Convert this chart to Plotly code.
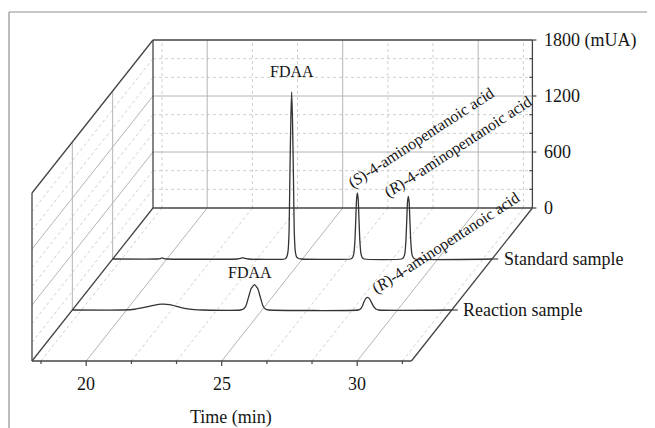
import plotly.graph_objects as go

# ---------------- data ----------------
std_time = [18.0, 19.65, 19.75, 19.82, 19.9, 20.0, 22.6, 22.72, 22.8, 22.88, 23.0,
            24.35, 24.42, 24.47, 24.51, 24.54, 24.575, 24.605, 24.635, 24.67, 24.70,
            24.74, 24.79, 24.86, 24.95,
            26.78, 26.85, 26.9, 26.94, 26.97, 27.0, 27.03, 27.06, 27.09, 27.12, 27.16,
            27.21, 27.28,
            28.66, 28.73, 28.78, 28.82, 28.85, 28.88, 28.91, 28.94, 28.97, 29.0, 29.04,
            29.09, 29.16, 32.0]
std_signal = [0, 0, 4, 12, 4, 0, 0, 6, 15, 6, 0,
              0, 20, 80, 300, 900, 1500, 1790, 1500, 900, 300,
              80, 20, 5, 0,
              0, 15, 60, 200, 420, 640, 707, 640, 420, 200, 60,
              15, 0,
              0, 15, 55, 190, 400, 610, 672, 610, 400, 190, 55,
              15, 0, 0]

rxn_time = [18.0, 19.9, 20.3, 20.7, 21.0, 21.3, 21.6, 21.9, 22.2, 22.5, 22.8,
            24.2, 24.3, 24.4, 24.5, 24.6, 24.72, 24.84, 24.94, 25.04, 25.14, 25.25,
            28.55, 28.63, 28.7, 28.76, 28.83, 28.9, 28.97, 29.04, 29.12, 29.2, 29.3, 32.0]
rxn_signal = [0, 0, 8, 30, 50, 62, 57, 35, 14, 4, 0,
              0, 8, 40, 135, 230, 271, 230, 135, 40, 8, 0,
              0, 10, 40, 85, 125, 136, 120, 80, 35, 10, 0, 0]

series_names = ["Standard sample", "Reaction sample"]
series_depth = [2 / 3, 1 / 3]

x_major = [20, 25, 30]
x_minor = [18.333, 21.667, 23.333, 26.667, 28.333, 31.667]
x_tick_labels = ["20", "25", "30"]
y_major = [0, 600, 1200, 1800]
y_minor = [200, 400, 800, 1000, 1400, 1600]
y_tick_labels = ["0", "600", "1200", "1800 (mUA)"]

T_MIN, T_MAX, I_MAX = 18, 32, 1800

# peak labels: (text, time, depth, intensity, angle)
peak_labels = [
    ("FDAA", 24.62, 2 / 3, 2014, 0),
    ("FDAA", 24.56, 1 / 3, 407, 0),
    ("(<i>S</i>)-4-aminopentanoic acid", 29.38, 2 / 3, 1300, -33),
    ("(<i>R</i>)-4-aminopentanoic acid", 30.74, 2 / 3, 1203, -33),
    ("(<i>R</i>)-4-aminopentanoic acid", 31.79, 1 / 3, 718, -33),
]

# ---------------- oblique projection ----------------
# the page adds an 8px body margin, so the figure is 8px smaller than the window
W, H = 647, 420
OX, OY = 24, 353     # pixel position of (t=18, depth=0, signal=0)
SX = 27.1            # px per minute
SY = 168 / 1800      # px per mUA
DT = 121 / SX        # depth offset, in minutes
DI = 153 / SY        # depth offset, in mUA
X0 = T_MIN - OX / SX
X1 = X0 + W / SX
Y1 = OY / SY
Y0 = -(H - OY) / SY


def proj(t, d, i):
    return t + d * DT, i + d * DI


def seg(store, a, b):
    pa, pb = proj(*a), proj(*b)
    store[0] += [pa[0], pb[0], None]
    store[1] += [pa[1], pb[1], None]


grid_solid = [[], []]
grid_dash = [[], []]
frame = [[], []]
ticks = [[], []]

# back wall & side wall horizontal levels
for lev in y_major[1:-1]:
    seg(grid_solid, (T_MIN, 1, lev), (T_MAX, 1, lev))
    seg(grid_solid, (T_MIN, 0, lev), (T_MIN, 1, lev))
for lev in y_minor:
    seg(grid_dash, (T_MIN, 1, lev), (T_MAX, 1, lev))
    seg(grid_dash, (T_MIN, 0, lev), (T_MIN, 1, lev))
# time lines on back wall & floor
for t in x_major:
    seg(grid_solid, (t, 1, 0), (t, 1, I_MAX))
    seg(grid_solid, (t, 0, 0), (t, 1, 0))
for t in x_minor:
    seg(grid_dash, (t, 1, 0), (t, 1, I_MAX))
    seg(grid_dash, (t, 0, 0), (t, 1, 0))
# depth lines on side wall
for d in series_depth:
    seg(grid_solid, (T_MIN, d, 0), (T_MIN, d, I_MAX))

# frame edges
seg(frame, (T_MIN, 1, I_MAX), (T_MAX, 1, I_MAX))
seg(frame, (T_MIN, 1, 0), (T_MAX, 1, 0))
seg(frame, (T_MIN, 1, 0), (T_MIN, 1, I_MAX))
seg(frame, (T_MAX, 1, 0), (T_MAX, 1, I_MAX))
seg(frame, (T_MIN, 0, 0), (T_MIN, 0, I_MAX))
seg(frame, (T_MIN, 0, I_MAX), (T_MIN, 1, I_MAX))
seg(frame, (T_MIN, 0, 0), (T_MIN, 1, 0))
seg(frame, (T_MIN, 0, 0), (T_MAX, 0, 0))
seg(frame, (T_MAX, 0, 0), (T_MAX, 1, 0))

# ticks
for t in x_major:
    seg(ticks, (t, 0, 0), (t, 0, -5 / SY))
for t in x_minor:
    seg(ticks, (t, 0, 0), (t, 0, -3 / SY))
for lev in y_major:
    seg(ticks, (T_MAX, 1, lev), (T_MAX + 4 / SX, 1, lev))
for lev in y_minor:
    seg(ticks, (T_MAX - 3 / SX, 1, lev), (T_MAX, 1, lev))
for d in series_depth:
    seg(ticks, (T_MAX, d, 0), (T_MAX + 6 / SX, d, 0))

fig = go.Figure()


def add_lines(store, color, width, dash="solid"):
    fig.add_trace(go.Scatter(x=store[0], y=store[1], mode="lines",
                             line=dict(color=color, width=width, dash=dash),
                             hoverinfo="skip", showlegend=False))


add_lines(grid_dash, "#cfcfcf", 1, "3px,3px")
add_lines(grid_solid, "#b4b4b4", 1)
add_lines(ticks, "#444444", 1.2)
add_lines(frame, "#444444", 1.3)

for (tt, ss), d, name in zip([(std_time, std_signal), (rxn_time, rxn_signal)],
                             series_depth, series_names):
    xs = [proj(t, d, s)[0] for t, s in zip(tt, ss)]
    ys = [proj(t, d, s)[1] for t, s in zip(tt, ss)]
    fig.add_trace(go.Scatter(x=xs, y=ys, mode="lines", name=name,
                             line=dict(color="#333333", width=1.3, shape="spline",
                                       smoothing=0.5),
                             showlegend=False))

FONT = "Liberation Serif, Times New Roman, serif"
TXT = "#151515"
ann = []
for lab, d in zip(series_names, series_depth):
    x, y = proj(T_MAX + 0.36, d, 0)
    ann.append(dict(x=x, y=y, text=lab, xanchor="left", yanchor="middle",
                    showarrow=False, font=dict(family=FONT, size=18, color=TXT)))
for lab, lev in zip(y_tick_labels, y_major):
    x, y = proj(T_MAX + 0.37, 1, lev)
    ann.append(dict(x=x, y=y, text=lab, xanchor="left", yanchor="middle",
                    showarrow=False, font=dict(family=FONT, size=18, color=TXT)))
for lab, t in zip(x_tick_labels, x_major):
    x, y = proj(t, 0, -23 / SY)
    ann.append(dict(x=x, y=y, text=lab, xanchor="center", yanchor="middle",
                    showarrow=False, font=dict(family=FONT, size=18, color=TXT)))
x, y = proj((T_MIN + T_MAX) / 2 + 0.35, 0, -56 / SY)
ann.append(dict(x=x, y=y, text="Time (min)", xanchor="center", yanchor="middle",
                showarrow=False, font=dict(family=FONT, size=18, color=TXT)))
for lab, t, d, lev, ang in peak_labels:
    x, y = proj(t, d, lev)
    ann.append(dict(x=x, y=y, text=lab, xanchor="center", yanchor="middle",
                    textangle=ang, showarrow=False,
                    font=dict(family=FONT, size=16, color=TXT)))

fig.update_layout(
    width=W, height=H,
    margin=dict(l=0, r=0, t=0, b=0),
    paper_bgcolor="white", plot_bgcolor="white",
    xaxis=dict(range=[X0, X1], visible=False, fixedrange=True),
    yaxis=dict(range=[Y0, Y1], visible=False, fixedrange=True),
    annotations=ann,
    shapes=[
        dict(type="line", xref="paper", yref="paper", x0=1 / W, x1=1,
             y0=1 - 4 / H, y1=1 - 4 / H, line=dict(color="#909090", width=1.2)),
        dict(type="line", xref="paper", yref="paper", x0=1 / W, x1=1 / W,
             y0=0, y1=1 - 4 / H, line=dict(color="#909090", width=1.2)),
    ],
)

fig.write_html("out.html")
